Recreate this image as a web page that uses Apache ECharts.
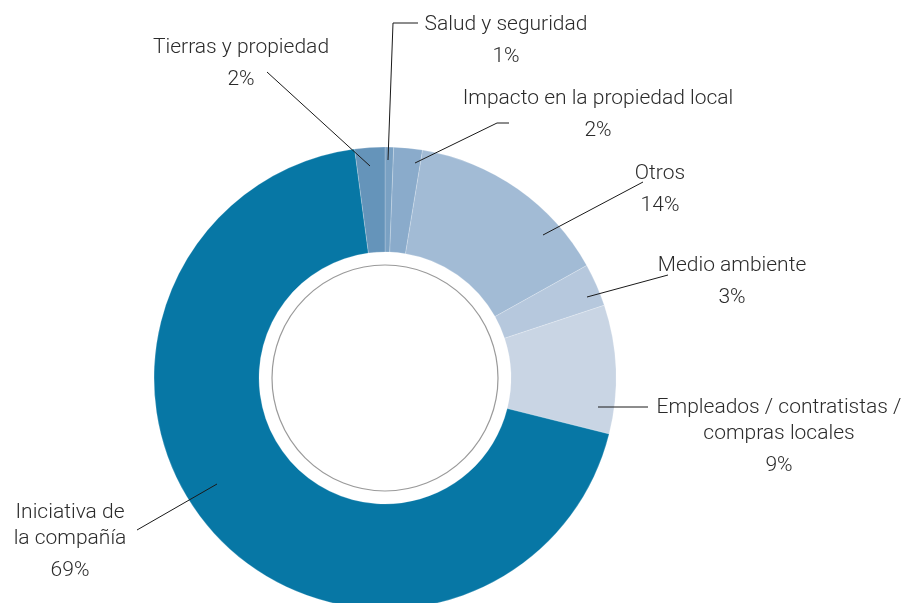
<!DOCTYPE html>
<html>
<head>
<meta charset="utf-8">
<script src="https://cdn.jsdelivr.net/npm/echarts@6/dist/echarts.min.js"></script>
<style>html,body{margin:0;padding:0;background:#fff}#c{width:908px;height:603px}</style>
</head>
<body>
<div id="c"></div>
<script>
const categories = ["Salud y seguridad", "Impacto en la propiedad local", "Otros", "Medio ambiente", "Empleados / contratistas /\ncompras locales", "Iniciativa de\nla compañía", "Tierras y propiedad"];
const values = [0.6, 2, 14.3, 3, 9, 69, 2.1];
const colors = ["#7aa1c3", "#8aabcb", "#a2bbd5", "#b6c8dd", "#c9d5e4", "#0777a5", "#6594ba"];

// label placement (text block center-x, top-y) and leader line points
const labelPos = [
  { x: 506, y: 12, line: [[388, 160], [393, 23], [418, 23]] },
  { x: 598, y: 86, line: [[415, 163], [497, 123], [509, 123]] },
  { x: 660, y: 161, line: [[543, 235], [643, 182]] },
  { x: 732, y: 253, line: [[587, 297], [668, 275]] },
  { x: 779, y: 395, line: [[598, 407], [648, 407]] },
  { x: 70, y: 500, line: [[217, 484], [137, 530]] },
  { x: 241, y: 35, line: [[370, 166], [267, 72]] }
];

const chart = echarts.init(document.getElementById('c'), null, { renderer: 'canvas' });
chart.setOption({
  animation: false,
  backgroundColor: '#fff',
  graphic: labelPos.map(lp => ({
    type: 'polyline',
    z: 100,
    silent: true,
    shape: { points: lp.line },
    style: { stroke: '#1a1a1a', lineWidth: 1, fill: null }
  })),
  series: [
    {
      type: 'pie',
      center: [385, 378],
      radius: [126, 231],
      startAngle: 90,
      clockwise: true,
      avoidLabelOverlap: false,
      data: categories.map((c, i) => ({ name: c, value: values[i], itemStyle: { color: colors[i] } })),
      itemStyle: { borderColor: 'rgba(255,255,255,0.35)', borderWidth: 0.6 },
      label: {
        show: true,
        formatter: p => '{n|' + p.name + '}\n{p|' + Math.round(p.value) + '%}',
        rich: {
          n: { fontFamily: 'Roboto', fontWeight: 300, fontSize: 21, lineHeight: 26, color: '#2b2b2b', align: 'center' },
          p: { fontFamily: 'Roboto', fontWeight: 300, fontSize: 21, lineHeight: 38, color: '#2b2b2b', align: 'center' }
        }
      },
      labelLine: { show: false },
      labelLayout: function (params) {
        const lp = labelPos[params.dataIndex];
        return { x: lp.x, y: lp.y, align: 'center', verticalAlign: 'top' };
      }
    },
    {
      type: 'pie',
      silent: true,
      center: [385, 378],
      radius: [0, 113],
      label: { show: false },
      labelLine: { show: false },
      data: [{ value: 1, itemStyle: { color: '#fff', borderColor: '#9a9a9a', borderWidth: 1.2 } }]
    }
  ]
});
</script>
</body>
</html>
